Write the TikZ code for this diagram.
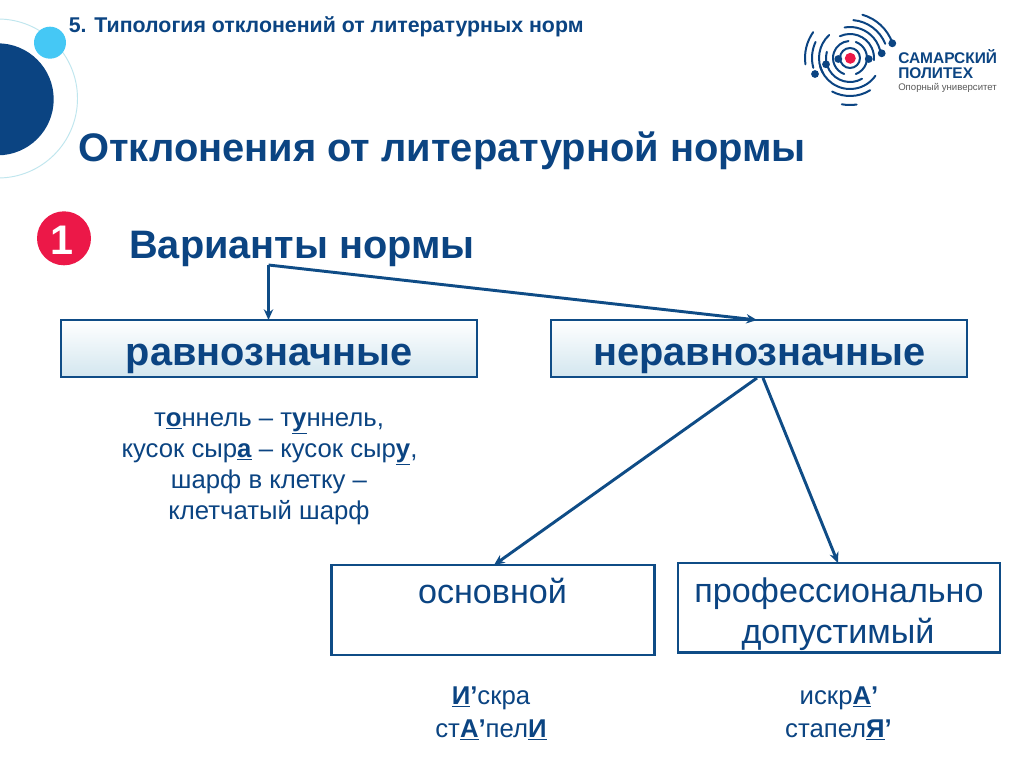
\documentclass[tikz,border=0pt]{standalone}
\usepackage{fontspec}
\setmainfont{Liberation Sans}
\usetikzlibrary{arrows.meta}
\definecolor{navy}{HTML}{0B4482}
\definecolor{linec}{HTML}{0F4C86}
\definecolor{sky}{HTML}{45C8F5}
\definecolor{ringc}{HTML}{BFE6EE}
\definecolor{redc}{HTML}{EC1848}
\definecolor{boxlow}{HTML}{D3E6EF}
\newcommand{\fs}[1]{\fontsize{#1}{#1}\selectfont}
\newcommand{\hl}[1]{\underline{\textbf{#1}}}
\tikzset{
  txt/.style={text=navy,inner sep=0pt},
  headbox/.style={draw=linec,line width=2.2pt,top color=white,bottom color=boxlow,shade,minimum width=312pt,minimum height=42.75pt,inner sep=0pt,outer sep=0pt},
  plainbox/.style={draw=linec,line width=2.2pt,fill=white,inner sep=0pt,outer sep=0pt},
  link/.style={draw=linec,line width=2.2pt,-{Stealth[length=8pt,width=7pt]}},
  orbit/.style={draw=navy,line width=1.5pt,line cap=round},
  dotb/.style={fill=navy},
}
\begin{document}
\begin{tikzpicture}[x=0.75pt,y=-0.75pt]
\useasboundingbox (0,0) rectangle (1024,767);
\fill[white] (0,0) rectangle (1024,767);
% decor
\begin{scope}
\clip (0,0) rectangle (1024,767);
\draw[ringc,line width=0.7pt] (-2,98.5) circle [radius=79.5];
\fill[navy] (-2.3,99.3) circle [radius=56];
\fill[sky] (50,42.7) circle [radius=16];
\end{scope}
% logo
\foreach \r/\a/\b in {45/-74/-20,38/-85/-22,31/-100/-8,24/-115/5,
                      45/172/215,38/165/205,31/150/228,
                      24/60/195,31/35/165,
                      47/82/100,38/58/118,
                      17/-70/70,17/110/265,10/0/360}{
  \draw[orbit] ({850+\r*cos(\a)},{58+\r*sin(\a)}) arc [start angle=\a,end angle=\b,radius=\r];
}
\foreach \x/\y in {838.3/59,868.7/59,826/64.3,881.7/53.3,815/74,892.3/43.3}{
  \fill[dotb] (\x,\y) circle [radius=3.9];
}
\fill[redc] (850.3,58.3) circle [radius=5.5];
\node[anchor=base west,txt] (logoa) at (898,63.5) {\fs{11.6}\textbf{САМАРСКИЙ}};
\node[anchor=base west,txt] (logob) at (898,78.5) {\fs{11.6}\textbf{ПОЛИТЕХ}};
\node[anchor=base west,inner sep=0pt,text=black!65] (logoc) at (898,90.5) {\fs{7.2}Опорный университет};
% titles
\node[txt,anchor=base west] (sect) at (68.5,32.5) {\fs{16}\textbf{5. Типология отклонений от литературных норм}};
\node[txt,anchor=base west] (title) at (78,161) {\fs{29.9}\textbf{Отклонения от литературной нормы}};
\fill[redc] (64,238.3) circle [radius=27];
\node[anchor=base,inner sep=0pt,text=white] (num) at (62,254) {\fs{31}\textbf{1}};
\node[txt,anchor=base west] (variants) at (129,258) {\fs{29.8}\textbf{Варианты нормы}};
% boxes
\node[headbox,anchor=north west] (eq) at (61,320) {};
\node[txt,anchor=base] (eqt) at (269,365) {\fs{29.8}\textbf{равнозначные}};
\node[headbox,anchor=north west] (neq) at (551,320) {};
\node[txt,anchor=base] (neqt) at (759.5,365) {\fs{29.8}\textbf{неравнозначные}};
\node[plainbox,anchor=north west,minimum width=242pt,minimum height=67.5pt] (main) at (331.5,565) {};
\node[plainbox,anchor=north west,minimum width=241.5pt,minimum height=67pt] (prof) at (678,563) {};
\node[txt,anchor=base] (maint) at (492.5,603) {\fs{25.6}основной};
\node[txt,anchor=base] (proft1) at (839,602) {\fs{25.6}профессионально};
\node[txt,anchor=base] (proft2) at (838,643) {\fs{25.6}допустимый};
% examples
\node[txt,anchor=base] (ex1) at (269,426) {\fs{19.3}т\hl{о}ннель – т\hl{у}ннель,};
\node[txt,anchor=base] (ex2) at (269.5,457) {\fs{19.3}кусок сыр\hl{а} – кусок сыр\hl{у},};
\node[txt,anchor=base] (ex3) at (269,488) {\fs{19.3}шарф в клетку –};
\node[txt,anchor=base] (ex4) at (269,519) {\fs{19.3}клетчатый шарф};
\node[txt,anchor=base] (ex5) at (491,704) {\fs{19.3}\hl{И}\textbf{’}скра};
\node[txt,anchor=base] (ex6) at (491,737) {\fs{19.3}ст\hl{А}\textbf{’}пел\hl{И}};
\node[txt,anchor=base] (ex7) at (839,704) {\fs{19.3}искр\hl{А}\textbf{’}};
\node[txt,anchor=base] (ex8) at (838.5,737) {\fs{19.3}стапел\hl{Я}\textbf{’}};
% connectors
\coordinate (fork) at (268.5,265);
\coordinate (neqa) at (757,378);
\coordinate (neqb) at (763,378);
\coordinate (maintop) at (494,565);
\coordinate (proftop) at (838,563);
\coordinate (neqtop) at (757,320);
\draw[link] (fork) -- (eq.north -| fork);
\draw[link] (fork) -- (neqtop);
\draw[link] (neqa) -- (maintop);
\draw[link] (neqb) -- (proftop);
\end{tikzpicture}
\end{document}
